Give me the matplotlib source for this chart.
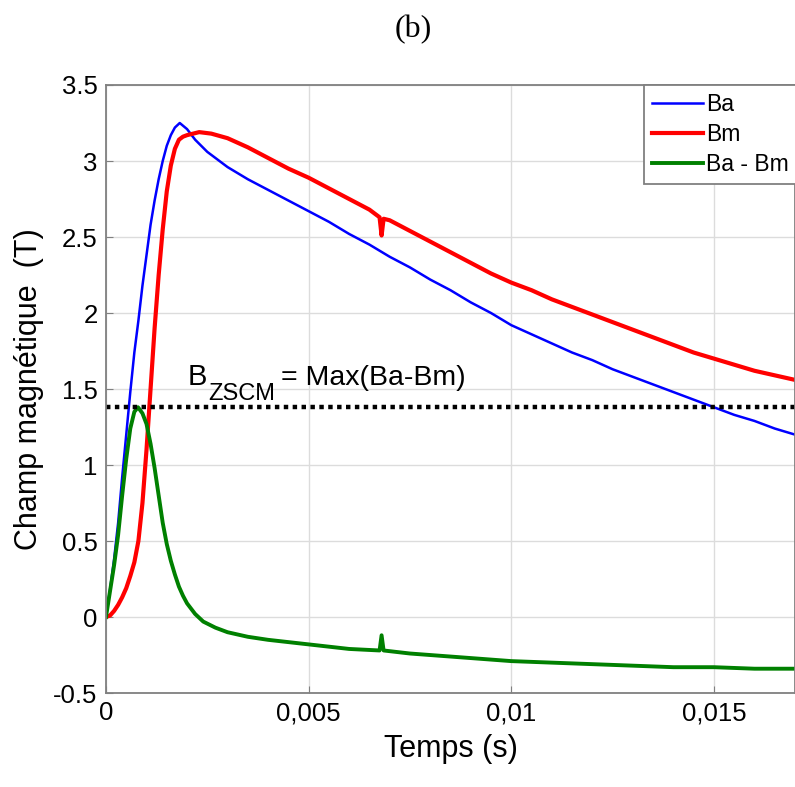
import matplotlib
matplotlib.use("Agg")
import matplotlib.pyplot as plt

plt.rcParams['font.family'] = ['Liberation Sans', 'DejaVu Sans']

# Ba (applied field), time in ms
t_ba = [0, 0.1, 0.2, 0.3, 0.4, 0.5, 0.6, 0.7, 0.8, 0.9, 1.0, 1.1, 1.2, 1.3,
        1.4, 1.5, 1.6, 1.7, 1.82, 2.0, 2.2, 2.5, 3.0, 3.5, 4.0, 4.5, 5.0, 5.5,
        6.0, 6.5, 7.0, 7.5, 8.0, 8.5, 9.0, 9.5, 10.0, 10.5, 11.0, 11.5, 12.0,
        12.5, 13.0, 13.5, 14.0, 14.5, 15.0, 15.5, 16.0, 16.5, 17.0]
ba = [0, 0.18, 0.38, 0.62, 0.92, 1.2, 1.48, 1.74, 1.95, 2.18, 2.38, 2.58, 2.74, 2.88,
      3.0, 3.1, 3.17, 3.22, 3.25, 3.21, 3.14, 3.06, 2.96, 2.88, 2.81, 2.74, 2.67, 2.60,
      2.52, 2.45, 2.37, 2.30, 2.22, 2.15, 2.07, 2.00, 1.92, 1.86, 1.80, 1.74, 1.69,
      1.63, 1.58, 1.53, 1.48, 1.43, 1.38, 1.33, 1.29, 1.24, 1.20]

# Bm (measured field)
t_bm = [0, 0.1, 0.2, 0.3, 0.4, 0.5, 0.6, 0.7, 0.8, 0.9, 1.0, 1.1, 1.2, 1.3,
        1.4, 1.5, 1.6, 1.7, 1.8, 1.9, 2.0, 2.3, 2.6, 3.0, 3.5, 4.0, 4.5, 5.0,
        5.5, 6.0, 6.5, 6.75, 6.8, 6.85, 7.0, 7.5, 8.0, 8.5, 9.0, 9.5, 10.0, 10.5,
        11.0, 11.5, 12.0, 12.5, 13.0, 13.5, 14.0, 14.5, 15.0, 15.5, 16.0, 16.5, 17.0]
bm = [0, 0.01, 0.04, 0.08, 0.13, 0.19, 0.27, 0.36, 0.5, 0.75, 1.1, 1.5, 1.9, 2.25,
      2.55, 2.8, 2.97, 3.08, 3.14, 3.16, 3.17, 3.19, 3.18, 3.15, 3.09, 3.02, 2.95, 2.89,
      2.82, 2.75, 2.68, 2.63, 2.51, 2.62, 2.61, 2.54, 2.47, 2.40, 2.33, 2.26, 2.20, 2.15,
      2.09, 2.04, 1.99, 1.94, 1.89, 1.84, 1.79, 1.74, 1.70, 1.66, 1.62, 1.59, 1.56]

# Ba - Bm
t_diff = [0, 0.1, 0.2, 0.3, 0.4, 0.5, 0.6, 0.7, 0.79, 0.9, 1.0, 1.1, 1.2, 1.3,
          1.4, 1.5, 1.6, 1.7, 1.8, 1.9, 2.0, 2.2, 2.4, 2.7, 3.0, 3.5, 4.0, 5.0,
          6.0, 6.75, 6.8, 6.85, 7.5, 8.5, 9.5, 10.0, 11.0, 12.0, 13.0, 14.0,
          15.0, 16.0, 17.0]
diff = [0, 0.17, 0.34, 0.54, 0.8, 1.04, 1.24, 1.35, 1.38, 1.34, 1.27, 1.14, 0.98, 0.8,
        0.62, 0.48, 0.37, 0.28, 0.2, 0.14, 0.09, 0.02, -0.03, -0.07, -0.1, -0.13, -0.15, -0.18,
        -0.21, -0.22, -0.12, -0.22, -0.24, -0.26, -0.28, -0.29, -0.30, -0.31, -0.32, -0.33,
        -0.33, -0.34, -0.34]

b_zscm = 1.38

x_ticks = [0, 0.005, 0.01, 0.015]
x_labels = ['0', '0,005', '0,01', '0,015']
y_ticks = [-0.5, 0, 0.5, 1, 1.5, 2, 2.5, 3, 3.5]
y_labels = ['-0.5', '0', '0.5', '1', '1.5', '2', '2.5', '3', '3.5']

fig = plt.figure(figsize=(7.95, 7.87), dpi=100)
ax = fig.add_axes([0.1333, 0.1194, 0.8667, 0.7726])

ax.plot([t * 1e-3 for t in t_ba], ba, color='#0000ff', lw=1.8, label='Ba')
ax.plot([t * 1e-3 for t in t_bm], bm, color='#ff0000', lw=3, label='Bm')
ax.plot([t * 1e-3 for t in t_diff], diff, color='#008000', lw=2.8, label='Ba - Bm')
ax.axhline(b_zscm, color='black', lw=3.2, linestyle=(0, (1, 1)))

# annotation: B with large subscript, then the rest
anchor = (0.00202, 1.526)
ax.annotate('B', anchor, fontsize=21, va='baseline')
ax.annotate('ZSCM', anchor, xytext=(14.8, -10.5), textcoords='offset points',
            fontsize=17, va='baseline')
ax.annotate('= Max(Ba-Bm)', anchor, xytext=(67, 0), textcoords='offset points',
            fontsize=20.5, va='baseline')

ax.set_xlim(0, 0.017)
ax.set_ylim(-0.5, 3.5)
ax.set_xticks(x_ticks)
ax.set_xticklabels(x_labels)
ax.set_yticks(y_ticks)
ax.set_yticklabels(y_labels)
ax.tick_params(direction='in', labelsize=18.5, length=5, color='#808080', pad=6)
ax.grid(True, color='#dcdcdc', lw=1)
ax.set_axisbelow(True)
for s in ax.spines.values():
    s.set_color('#808080')
    s.set_linewidth(1.3)

ax.set_xlabel('Temps (s)', fontsize=22, labelpad=6)
ax.set_ylabel('Champ magnétique  (T)', fontsize=22, labelpad=7)

leg = ax.legend(loc='upper right', bbox_to_anchor=(1.003, 1.0), borderaxespad=0,
                fontsize=16.5, handlelength=2.2, handletextpad=0.15,
                labelspacing=0.3, borderpad=0.35, fancybox=False,
                framealpha=1, edgecolor='#808080')
leg.get_frame().set_linewidth(1.3)

fig.text(0.52, 0.962, '(b)', ha='center', va='center', fontsize=23,
         family='Liberation Serif')

fig.savefig('out.png', dpi=100)
